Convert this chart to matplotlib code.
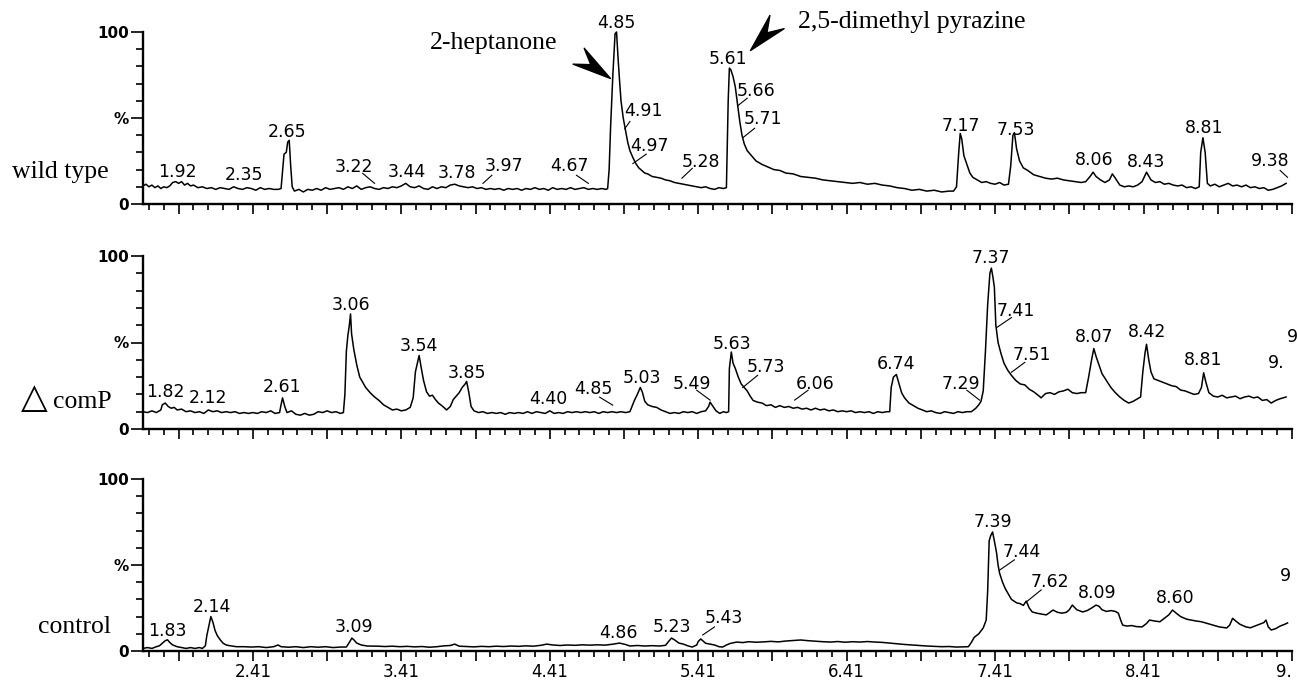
# GC-MS total ion chromatograms: wild type, delta comP and control

import numpy as np
import matplotlib.pyplot as plt
from matplotlib.path import Path
from matplotlib.markers import MarkerStyle
from matplotlib.transforms import Affine2D

# (retention time [min], relative abundance [%])
wild_type = [
    (1.67, 10.5), (1.69, 11.5), (1.71, 10), (1.73, 11), (1.75, 9.5), (1.77, 10.5), (1.79, 9),
    (1.81, 10), (1.83, 9.5), (1.85, 10.5), (1.87, 12.5), (1.89, 13), (1.91, 12), (1.93, 13),
    (1.95, 11), (1.97, 12), (1.99, 10.5), (2.01, 11), (2.04, 9.5), (2.07, 10), (2.10, 9),
    (2.13, 9.5), (2.16, 8.5), (2.19, 9.5), (2.22, 9), (2.25, 8.5), (2.28, 10), (2.31, 9),
    (2.34, 8.5), (2.37, 9.5), (2.40, 9), (2.43, 8), (2.46, 9.5), (2.49, 8.5), (2.52, 9),
    (2.55, 8.5), (2.58, 8.5), (2.60, 9), (2.61, 19), (2.62, 29), (2.635, 30), (2.645, 36),
    (2.655, 37), (2.665, 22), (2.675, 10), (2.69, 7.5), (2.72, 8.5), (2.75, 7), (2.78, 8.5),
    (2.81, 8), (2.84, 9), (2.87, 8), (2.90, 9.5), (2.93, 8.5), (2.96, 9), (2.99, 9.5),
    (3.02, 8.5), (3.05, 10), (3.08, 9), (3.11, 10.5), (3.14, 8.5), (3.17, 9.5), (3.20, 10),
    (3.23, 9), (3.26, 8.5), (3.29, 9.5), (3.32, 9), (3.35, 10), (3.38, 9.5), (3.41, 10.5),
    (3.44, 12), (3.47, 10), (3.50, 9.5), (3.53, 10.5), (3.56, 9), (3.59, 8.5), (3.62, 10),
    (3.65, 9), (3.68, 10), (3.71, 9.5), (3.74, 11), (3.77, 11.5), (3.80, 10.5), (3.83, 10),
    (3.86, 9.5), (3.89, 10), (3.92, 9), (3.95, 9.5), (3.98, 8.5), (4.01, 9), (4.04, 8.5),
    (4.07, 9), (4.10, 8), (4.13, 9), (4.16, 8.5), (4.19, 9), (4.22, 8), (4.25, 9), (4.28, 8.5),
    (4.31, 9.5), (4.34, 8.5), (4.37, 9), (4.40, 8), (4.43, 9.5), (4.46, 8.5), (4.49, 9),
    (4.52, 8.5), (4.55, 9.5), (4.58, 8.5), (4.61, 9), (4.64, 9.5), (4.67, 8.5), (4.70, 9),
    (4.73, 8.5), (4.76, 9), (4.79, 8.5), (4.80, 9), (4.81, 20), (4.82, 45), (4.835, 75),
    (4.85, 99), (4.86, 100), (4.87, 85), (4.88, 72), (4.89, 60), (4.905, 50), (4.92, 43),
    (4.935, 36), (4.95, 31), (4.97, 27), (4.99, 23.5), (5.01, 21), (5.03, 19.5), (5.05, 18),
    (5.07, 17.5), (5.10, 16), (5.13, 15.5), (5.16, 15), (5.19, 14), (5.22, 13.5), (5.25, 12.5),
    (5.28, 12), (5.31, 11.5), (5.34, 11), (5.37, 10.5), (5.40, 10), (5.43, 9.5), (5.46, 10),
    (5.49, 9), (5.52, 8.5), (5.55, 9.5), (5.58, 9), (5.60, 9.5), (5.605, 30), (5.612, 60),
    (5.62, 79), (5.63, 78), (5.645, 74), (5.66, 68), (5.675, 58), (5.69, 48), (5.705, 40),
    (5.72, 35), (5.74, 31), (5.77, 28), (5.80, 25), (5.84, 23), (5.88, 21.5), (5.92, 20),
    (5.96, 19.5), (6.00, 18), (6.05, 17.5), (6.10, 16), (6.15, 15.5), (6.20, 15), (6.25, 14),
    (6.30, 13.5), (6.35, 13), (6.40, 12.5), (6.45, 12), (6.50, 12.5), (6.55, 11.5), (6.60, 12),
    (6.65, 11), (6.70, 10.5), (6.75, 9.5), (6.80, 9), (6.85, 8), (6.90, 8.5), (6.95, 7.5),
    (7.00, 8), (7.05, 7), (7.10, 7.5), (7.13, 7.5), (7.15, 10), (7.165, 30), (7.175, 41),
    (7.185, 38), (7.20, 28), (7.22, 23), (7.24, 18), (7.26, 15.5), (7.29, 14), (7.32, 12.5),
    (7.35, 13), (7.38, 12), (7.41, 11.5), (7.44, 12.5), (7.47, 11), (7.50, 11.5), (7.515, 22),
    (7.53, 40), (7.54, 41.5), (7.555, 32), (7.575, 25), (7.60, 21), (7.63, 19.5), (7.67, 17),
    (7.71, 16), (7.75, 15), (7.79, 14.5), (7.83, 15), (7.87, 14), (7.91, 13.5), (7.95, 13),
    (7.99, 12.5), (8.02, 13), (8.05, 16), (8.07, 18.5), (8.09, 16), (8.12, 14), (8.15, 12.5),
    (8.18, 14), (8.20, 17.5), (8.22, 15), (8.25, 11), (8.28, 10), (8.31, 10.5), (8.34, 10),
    (8.37, 11), (8.40, 13), (8.43, 18.5), (8.46, 14), (8.49, 12.5), (8.52, 13), (8.55, 11.5),
    (8.58, 12), (8.61, 11), (8.64, 10.5), (8.67, 11), (8.70, 9.5), (8.73, 10), (8.76, 9),
    (8.785, 10), (8.795, 30), (8.81, 38.5), (8.825, 30), (8.84, 12), (8.86, 10.5), (8.89, 11.5),
    (8.92, 10), (8.95, 11), (8.98, 12), (9.01, 10.5), (9.04, 11), (9.07, 10), (9.10, 11),
    (9.13, 9.5), (9.16, 10), (9.19, 9), (9.22, 9.5), (9.25, 8), (9.28, 8.5), (9.31, 9.5),
    (9.34, 10.5), (9.37, 12),
]

delta_comp = [
    (1.67, 10), (1.70, 9.5), (1.73, 10.5), (1.76, 9.5), (1.79, 11), (1.80, 14), (1.82, 15),
    (1.84, 13), (1.86, 12), (1.88, 12.5), (1.90, 11), (1.93, 11.5), (1.96, 10), (1.99, 10.5),
    (2.02, 9.5), (2.05, 10), (2.08, 9), (2.11, 11), (2.14, 10), (2.17, 10.5), (2.20, 9.5),
    (2.23, 10), (2.26, 9.5), (2.29, 10), (2.32, 9), (2.35, 9.5), (2.38, 9), (2.41, 9.5),
    (2.44, 9), (2.47, 10), (2.50, 9.5), (2.53, 10.5), (2.56, 9), (2.59, 9.5), (2.60, 14),
    (2.61, 18), (2.625, 13), (2.64, 9.5), (2.67, 10.5), (2.70, 8.5), (2.73, 8), (2.76, 9),
    (2.79, 8), (2.82, 8.5), (2.85, 10), (2.88, 9.5), (2.91, 10.5), (2.94, 9.5), (2.97, 10),
    (3.00, 9), (3.02, 9.5), (3.03, 20), (3.04, 45), (3.05, 54), (3.06, 60), (3.068, 66.5),
    (3.075, 55), (3.09, 46), (3.11, 37), (3.13, 30), (3.15, 27), (3.17, 24), (3.20, 21),
    (3.23, 18.5), (3.26, 16.5), (3.29, 14), (3.32, 12.5), (3.35, 11), (3.38, 11.5),
    (3.41, 10.5), (3.44, 11), (3.47, 12.5), (3.49, 18), (3.505, 33), (3.53, 42.5),
    (3.545, 35), (3.56, 28), (3.58, 21.5), (3.60, 19), (3.62, 19.5), (3.64, 17), (3.66, 15),
    (3.69, 13), (3.715, 11), (3.74, 13), (3.76, 17), (3.78, 19), (3.80, 21), (3.82, 24),
    (3.84, 26), (3.85, 27.5), (3.865, 21), (3.88, 13), (3.90, 10.5), (3.93, 9.5), (3.96, 10),
    (3.99, 9), (4.02, 9.5), (4.05, 9), (4.08, 9.5), (4.11, 8.5), (4.14, 9.5), (4.17, 9),
    (4.20, 9.5), (4.23, 9), (4.26, 10), (4.29, 9), (4.32, 10), (4.35, 9.5), (4.38, 9),
    (4.41, 10.5), (4.44, 9), (4.47, 9.5), (4.50, 9), (4.53, 10), (4.56, 9.5), (4.59, 10),
    (4.62, 9.5), (4.65, 10), (4.68, 9.5), (4.71, 10), (4.74, 9), (4.77, 10), (4.80, 9.5),
    (4.83, 10), (4.86, 9.5), (4.89, 10), (4.92, 9.5), (4.95, 10), (4.98, 16.5), (5.00, 20),
    (5.02, 24), (5.035, 21), (5.05, 16), (5.07, 14), (5.10, 13), (5.13, 12.5), (5.16, 11),
    (5.19, 10), (5.22, 9), (5.25, 9.5), (5.28, 9), (5.31, 10), (5.34, 9.5), (5.37, 10),
    (5.40, 9), (5.43, 10), (5.46, 10.5), (5.48, 13), (5.49, 15.5), (5.51, 13), (5.53, 10.5),
    (5.555, 9), (5.58, 10), (5.60, 9.5), (5.615, 10), (5.62, 35), (5.633, 44.5), (5.645, 38),
    (5.66, 35), (5.68, 30), (5.70, 26), (5.72, 24), (5.74, 22), (5.76, 19), (5.78, 16.5),
    (5.81, 15.5), (5.84, 15), (5.87, 13.5), (5.90, 14), (5.93, 12.5), (5.96, 13.5),
    (5.99, 12.5), (6.02, 13), (6.05, 12), (6.08, 12.5), (6.11, 11.5), (6.14, 12), (6.17, 11),
    (6.20, 12), (6.23, 11), (6.26, 11.5), (6.29, 10.5), (6.32, 11), (6.35, 10), (6.38, 10.5),
    (6.41, 10), (6.44, 10.5), (6.47, 9.5), (6.50, 10), (6.53, 9.5), (6.56, 10), (6.59, 9),
    (6.62, 10), (6.65, 9.5), (6.68, 10), (6.70, 10), (6.71, 24), (6.725, 30), (6.745, 31.5),
    (6.76, 27), (6.78, 21), (6.80, 18), (6.83, 15), (6.86, 13.5), (6.89, 12), (6.92, 11),
    (6.95, 10), (6.98, 10.5), (7.01, 9.5), (7.04, 9), (7.07, 10), (7.10, 9.5), (7.13, 9),
    (7.16, 10), (7.19, 9.5), (7.22, 10), (7.25, 10), (7.28, 12), (7.30, 14), (7.315, 16),
    (7.33, 22), (7.345, 45), (7.36, 72), (7.375, 90), (7.385, 93), (7.395, 88), (7.405, 82),
    (7.415, 60), (7.43, 50), (7.45, 43.5), (7.47, 38), (7.495, 34), (7.52, 31), (7.55, 28),
    (7.58, 26), (7.61, 25.5), (7.64, 23), (7.67, 21.5), (7.70, 19.5), (7.72, 18), (7.75, 20.5),
    (7.78, 21), (7.81, 20), (7.84, 21.5), (7.87, 22), (7.90, 23), (7.93, 21), (7.96, 20.5),
    (7.99, 21), (8.02, 21), (8.04, 30), (8.06, 40), (8.075, 46.5), (8.09, 42), (8.11, 37),
    (8.13, 32), (8.16, 28), (8.19, 24), (8.22, 21), (8.25, 18.5), (8.28, 16.5), (8.31, 15),
    (8.34, 16), (8.37, 17.5), (8.39, 18.5), (8.405, 33), (8.42, 44), (8.43, 49), (8.445, 40),
    (8.46, 33), (8.48, 29), (8.51, 28), (8.54, 27), (8.57, 26), (8.60, 25), (8.63, 24.5),
    (8.66, 22.5), (8.69, 22), (8.72, 21), (8.75, 20), (8.78, 20.5), (8.80, 24), (8.815, 32.5),
    (8.83, 27), (8.85, 21), (8.88, 19), (8.91, 18.5), (8.94, 19.5), (8.97, 18), (9.00, 18.5),
    (9.03, 19), (9.06, 17.5), (9.09, 18.5), (9.12, 19), (9.15, 18), (9.18, 18.5), (9.21, 16.5),
    (9.24, 17), (9.27, 15), (9.30, 16.5), (9.33, 17.5), (9.37, 18.5),
]

control = [
    (1.67, 1.5), (1.70, 2), (1.73, 1.5), (1.76, 2.5), (1.78, 3), (1.80, 4.5), (1.82, 6),
    (1.835, 6.5), (1.85, 5), (1.87, 3.5), (1.90, 2.5), (1.93, 2), (1.96, 1.5), (1.99, 2),
    (2.02, 1.5), (2.05, 2), (2.07, 1.5), (2.09, 3), (2.10, 9), (2.115, 15), (2.127, 20),
    (2.14, 17), (2.155, 12), (2.17, 9), (2.19, 6.5), (2.21, 4.5), (2.23, 3.5), (2.26, 3),
    (2.30, 2.5), (2.35, 2.5), (2.40, 2.3), (2.45, 2.5), (2.50, 2), (2.55, 2.5), (2.58, 3.5),
    (2.60, 2.5), (2.65, 2.2), (2.70, 2.5), (2.75, 2), (2.80, 2.5), (2.85, 2.2), (2.90, 2.5),
    (2.95, 2), (3.00, 2.3), (3.04, 2.3), (3.06, 5), (3.077, 7.5), (3.09, 6.5), (3.11, 4.6),
    (3.14, 3.5), (3.18, 2.9), (3.25, 2.8), (3.30, 2.6), (3.35, 2.8), (3.40, 2.5), (3.45, 2.7),
    (3.50, 2.4), (3.55, 2.6), (3.60, 2.2), (3.65, 2.5), (3.70, 3), (3.74, 3.2), (3.77, 4),
    (3.80, 2.8), (3.85, 2.6), (3.90, 2.4), (3.95, 2.7), (4.00, 2.5), (4.05, 2.8), (4.10, 2.6),
    (4.15, 2.9), (4.20, 2.7), (4.25, 3), (4.30, 2.8), (4.35, 3.3), (4.39, 4), (4.43, 3.5),
    (4.48, 3.2), (4.53, 3.5), (4.58, 3.3), (4.63, 3.6), (4.68, 3.4), (4.73, 3.6), (4.78, 3.4),
    (4.83, 3.9), (4.88, 4.6), (4.92, 3.8), (4.95, 2.9), (5.00, 3.2), (5.05, 2.9), (5.10, 3.1),
    (5.15, 2.9), (5.19, 3.3), (5.21, 5.5), (5.23, 7.5), (5.25, 6.5), (5.28, 4.6), (5.31, 4),
    (5.34, 3), (5.37, 2.3), (5.40, 3.5), (5.41, 5.5), (5.427, 7), (5.44, 6), (5.46, 4.5),
    (5.49, 4), (5.52, 3.5), (5.55, 2.5), (5.575, 2.3), (5.60, 3.5), (5.63, 4.5), (5.67, 5.2),
    (5.71, 4.9), (5.75, 5.4), (5.80, 5.1), (5.85, 5.3), (5.90, 5.6), (5.95, 5.3), (6.00, 5.8),
    (6.05, 6.1), (6.10, 6.4), (6.15, 6), (6.20, 5.7), (6.25, 5.4), (6.30, 5.2), (6.35, 5.5),
    (6.40, 5.1), (6.45, 5.4), (6.50, 5.2), (6.55, 5.5), (6.60, 5.2), (6.65, 5), (6.70, 4.6),
    (6.75, 4.2), (6.80, 3.8), (6.85, 3.5), (6.90, 3.2), (6.95, 2.9), (7.00, 2.7), (7.05, 2.5),
    (7.10, 2.6), (7.15, 2.3), (7.20, 2.4), (7.23, 2.5), (7.25, 5), (7.27, 8), (7.30, 10),
    (7.33, 13.4), (7.35, 18), (7.36, 35), (7.37, 64), (7.38, 67), (7.393, 69.2), (7.405, 64),
    (7.42, 57), (7.43, 50), (7.44, 45.3), (7.46, 40), (7.48, 36), (7.50, 33), (7.52, 30),
    (7.555, 28), (7.58, 27.5), (7.60, 26.5), (7.62, 29), (7.64, 25), (7.66, 22.7), (7.69, 22),
    (7.72, 21.5), (7.755, 21), (7.78, 22.5), (7.80, 23.8), (7.83, 22.5), (7.86, 22),
    (7.89, 22.5), (7.91, 24), (7.93, 26.7), (7.96, 24), (8.00, 22.7), (8.03, 23.5), (8.06, 25),
    (8.09, 26.7), (8.11, 26), (8.13, 24), (8.16, 23), (8.19, 23.5), (8.22, 23), (8.24, 22),
    (8.26, 17), (8.27, 15), (8.30, 14.5), (8.33, 14.8), (8.36, 14.2), (8.40, 14), (8.43, 16),
    (8.45, 18), (8.48, 17.5), (8.52, 17), (8.55, 19), (8.58, 21), (8.605, 23.8), (8.63, 22),
    (8.66, 20), (8.70, 18.5), (8.73, 18), (8.76, 17.5), (8.80, 17), (8.84, 16), (8.875, 15.1),
    (8.92, 14), (8.97, 13.4), (8.99, 15), (9.01, 19), (9.03, 17.5), (9.06, 15.5), (9.10, 14),
    (9.13, 13.5), (9.16, 14.5), (9.19, 15.5), (9.22, 16.5), (9.235, 18), (9.25, 14),
    (9.27, 12.2), (9.30, 13), (9.33, 14.5), (9.36, 15.5), (9.38, 16.3),
]

# peak labels: (text, x, y) and leader lines (x0, y0, x1, y1)
wt_peaks = [
    ('1.92', 1.905, 18.4), ('2.35', 2.35, 16.7), ('2.65', 2.642, 42), ('3.22', 3.09, 21.8),
    ('3.44', 3.447, 18.4), ('3.78', 3.784, 18), ('3.97', 4.10, 22), ('4.67', 4.545, 22),
    ('4.85', 4.86, 105), ('4.91', 5.043, 54), ('4.97', 5.08, 34), ('5.28', 5.43, 24.7),
    ('5.61', 5.61, 84.5), ('5.66', 5.80, 65.5), ('5.71', 5.845, 49.4), ('7.17', 7.18, 45.4),
    ('7.53', 7.548, 43), ('8.06', 8.08, 25.3), ('8.43', 8.43, 24.4), ('8.81', 8.82, 44),
    ('9.38', 9.26, 25),
]
wt_leaders = [
    (3.15, 17.8, 3.23, 12), (3.96, 12, 4.02, 16.7), (4.59, 16.7, 4.67, 12),
    (4.915, 43.7, 4.95, 48), (4.97, 23.5, 5.06, 29), (5.30, 15, 5.37, 20.7),
    (5.675, 57, 5.74, 61.5), (5.71, 38.5, 5.79, 44), (9.33, 19.5, 9.38, 15.5),
]
dc_peaks = [
    ('1.82', 1.824, 21.3), ('2.12', 2.107, 18), ('2.61', 2.605, 24.3), ('3.06', 3.07, 71.8),
    ('3.54', 3.528, 47.7), ('3.85', 3.85, 32.5), ('4.40', 4.40, 17.2), ('4.85', 4.706, 23),
    ('5.03', 5.033, 29.6), ('5.49', 5.366, 26), ('5.63', 5.64, 49), ('5.73', 5.868, 35.8),
    ('6.06', 6.195, 26), ('6.74', 6.743, 37.6), ('7.29', 7.178, 26), ('7.37', 7.38, 99),
    ('7.41', 7.548, 68.4), ('7.51', 7.656, 42.5), ('8.07', 8.08, 53), ('8.42', 8.437, 56),
    ('8.81', 8.814, 39.7),
]
dc_leaders = [
    (4.746, 18.4, 4.834, 13.8), (5.40, 22.4, 5.49, 16.7), (5.71, 24, 5.81, 31),
    (6.06, 16.7, 6.15, 22.4), (7.22, 22.4, 7.305, 16.7), (7.42, 58.6, 7.52, 64.4),
    (7.52, 32.8, 7.61, 38.5),
]
ctl_peaks = [
    ('1.83', 1.834, 11.6), ('2.14', 2.134, 25.3), ('3.09', 3.09, 14.1), ('4.86', 4.875, 10.3),
    ('5.23', 5.235, 14.1), ('5.43', 5.58, 19), ('7.39', 7.393, 75.2), ('7.44', 7.587, 57.3),
    ('7.62', 7.777, 40.3), ('8.09', 8.10, 33.7), ('8.60', 8.625, 31),
]
ctl_leaders = [
    (5.44, 9.3, 5.52, 14), (7.44, 47, 7.54, 53), (7.62, 28.5, 7.72, 35.5),
]
# labels that run off the right edge in the original: only their visible part, left-aligned
dc_edge = [('9', 9.375, 53), ('9.', 9.245, 38)]
ctl_edge = [('9', 9.33, 43.6)]

sample_names = ['wild type', 'comP', 'control']
major_rt = np.arange(1.91, 9.42, 0.5)
minor_rt = np.arange(1.71, 9.42, 0.1)

W, H = 1297, 683
fig = plt.figure(figsize=(W / 100, H / 100), dpi=100)

# pixel rows of the 100 % and 0 % lines for each panel
rows = [(32, 204), (256, 429), (479, 651)]
panels = [(wild_type, wt_peaks, wt_leaders, []),
          (delta_comp, dc_peaks, dc_leaders, dc_edge),
          (control, ctl_peaks, ctl_leaders, ctl_edge)]

axes = []
for i, ((top, bot), (trace, peaks, leaders, edge)) in enumerate(zip(rows, panels)):
    ax = fig.add_axes([143 / W, 1 - bot / H, (1292 - 143) / W, (bot - top) / H])
    axes.append(ax)
    rt, pct = zip(*trace)
    ax.plot(rt, pct, color='black', lw=1.1, clip_on=False)
    for txt, x, y in peaks:
        ax.text(x, y, txt, ha='center', va='center', fontsize=12.5,
                family='DejaVu Sans', clip_on=False)
    for txt, x, y in edge:
        ax.text(x, y, txt, ha='left', va='center', fontsize=12.5,
                family='DejaVu Sans', clip_on=False)
    for x0, y0, x1, y1 in leaders:
        ax.plot([x0, x1], [y0, y1], color='black', lw=0.8, clip_on=False)

    ax.set_xlim(1.67, 9.41)
    ax.set_ylim(0, 100)
    for s in ['top', 'right']:
        ax.spines[s].set_visible(False)
    for s in ['left', 'bottom']:
        ax.spines[s].set_linewidth(1.7)

    ax.set_yticks([0, 50, 100])
    ax.set_yticklabels(['0', '%', '100'], fontsize=11, fontweight='bold')
    ax.set_yticks(np.arange(10, 100, 10), minor=True)
    ax.tick_params(axis='y', which='major', length=9, width=1.2, pad=1)
    ax.tick_params(axis='y', which='minor', length=5, width=1.2)

    ax.set_xticks(major_rt)
    ax.set_xticks(minor_rt, minor=True)
    if i == 2:
        labels = ['%.2f' % v if k % 2 == 1 else '' for k, v in enumerate(major_rt)]
        labels[-1] = '9.'
        ax.set_xticklabels(labels, fontsize=12)
        ax.get_xticklabels()[-1].set_horizontalalignment('right')
    else:
        ax.set_xticklabels([])
    ax.tick_params(axis='x', which='major', length=7, width=1.2, pad=1.5)
    ax.tick_params(axis='x', which='minor', length=4, width=1.2)

# arrowheads pointing at the two marked compounds
dart = Path([(0, 0), (-1, 0.25), (-0.62, 0), (-1, -0.25), (0, 0)],
            [Path.MOVETO, Path.LINETO, Path.LINETO, Path.LINETO, Path.CLOSEPOLY])
for x, y, ang in [(4.814, 73.3, -35), (5.757, 89.5, -133)]:
    axes[0].plot([x], [y], linestyle='none', color='black', markersize=56, clip_on=False,
                 marker=MarkerStyle(dart, transform=Affine2D().rotate_deg(ang)))

serif = ['Liberation Serif', 'DejaVu Serif']
fig.text(430 / W, 1 - 49.5 / H, '2-heptanone', fontsize=18.5, family=serif, va='baseline')
fig.text(798 / W, 1 - 28 / H, '2,5-dimethyl pyrazine', fontsize=18.5, family=serif,
         va='baseline')

fig.text(12 / W, 1 - 178 / H, sample_names[0], fontsize=18.5, family=serif, va='baseline')
fig.text(21 / W, 1 - 408 / H, '\u25b3', fontsize=25, family='DejaVu Sans', va='baseline')
fig.text(53 / W, 1 - 408 / H, sample_names[1], fontsize=18.5, family=serif, va='baseline')
fig.text(38 / W, 1 - 633 / H, sample_names[2], fontsize=18.5, family=serif, va='baseline')

fig.savefig('out.png', dpi=100)
